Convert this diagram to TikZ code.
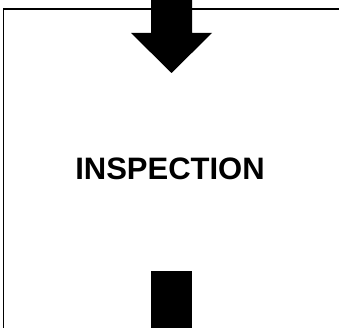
\documentclass[tikz,border=0pt]{standalone}
\usepackage{fontspec}
\setmainfont{Liberation Sans}
\begin{document}
\begin{tikzpicture}[x=1pt, y=-1pt, every node/.style={font=\bfseries\fontsize{31}{37}\selectfont}]
	\useasboundingbox (0,0) rectangle (339,328);
	\coordinate (corner) at (3.3,9.3);
	\draw[line width=1.6pt] (corner |- 0,335) -- (corner) -- (345,9.3);
	\fill[black] (151,-2) -- (192,-2) -- (192,33) -- (212,33) -- (171.5,73) -- (131,33) -- (151,33) -- cycle;
	\node (inspection) at (170,169) {INSPECTION};
	\fill[black] (151,271) rectangle (192,335);
\end{tikzpicture}
\end{document}
